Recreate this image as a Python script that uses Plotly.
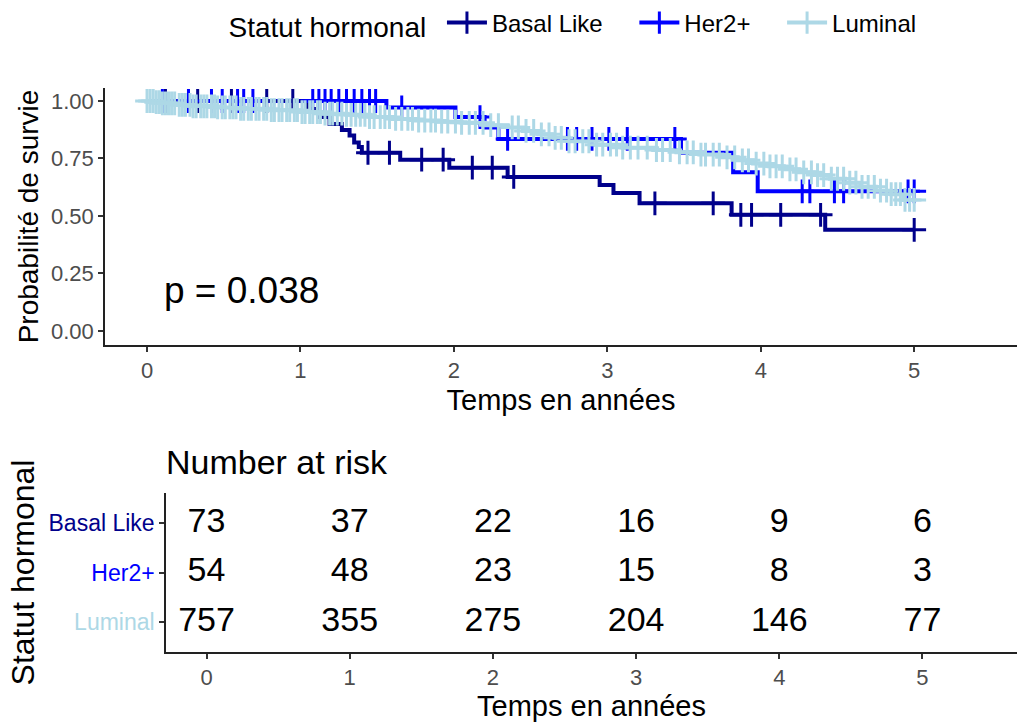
import numpy as np
import plotly.graph_objects as go

# ---- Kaplan-Meier estimates per hormonal status (time in years, survival probability) ----
basal_t = [0, 1.05, 1.12, 1.19, 1.27, 1.32, 1.35, 1.38, 1.40, 1.65, 1.97, 2.35, 2.95, 3.04, 3.21, 3.81, 4.42, 5.0]
basal_s = [1.0, 0.965, 0.93, 0.90, 0.874, 0.85, 0.82, 0.80, 0.775, 0.745, 0.71, 0.67, 0.635, 0.60, 0.555, 0.505, 0.44, 0.44]
basal_cens = [0.12, 0.33, 0.55, 0.78, 0.95, 1.44, 1.58, 1.79, 1.93, 2.12, 2.25, 2.39, 3.31, 3.69,
              3.87, 3.94, 4.13, 4.39, 5.0]

her2_t = [0, 1.56, 2.01, 2.20, 2.29, 3.48, 3.82, 3.98, 5.0]
her2_s = [1.0, 0.972, 0.93, 0.885, 0.835, 0.775, 0.69, 0.607, 0.607]
her2_cens = [0.10, 0.27, 0.42, 0.49, 0.59, 0.63, 0.69, 1.08, 1.12, 1.16, 1.20, 1.25, 1.30, 1.35,
             1.40, 1.45, 1.49, 1.66, 2.17, 2.35, 2.74, 2.80, 2.90, 3.01, 3.13, 3.44, 4.27, 4.32,
             4.48, 4.54, 4.96, 5.0]

lum_t = [0, 0.05, 0.10, 0.20, 0.30, 0.45, 0.60, 0.80, 1.00, 1.15, 1.30, 1.45, 1.60, 1.75, 1.90,
         2.05, 2.20, 2.35, 2.45, 2.55, 2.65, 2.75, 2.90, 3.10, 3.30, 3.45, 3.60, 3.75, 3.85, 3.95,
         4.05, 4.15, 4.25, 4.35, 4.45, 4.55, 4.65, 4.75, 4.85, 4.93, 5.0]
lum_s = [1.0, 0.995, 0.99, 0.983, 0.977, 0.972, 0.966, 0.96, 0.952, 0.945, 0.94, 0.93, 0.922, 0.915,
         0.91, 0.905, 0.895, 0.885, 0.87, 0.855, 0.84, 0.825, 0.81, 0.797, 0.787, 0.777, 0.767,
         0.755, 0.742, 0.728, 0.716, 0.703, 0.69, 0.678, 0.662, 0.645, 0.627, 0.61, 0.595, 0.57, 0.57]
lum_cens = [0.00, 0.02, 0.04, 0.06, 0.08, 0.10, 0.12, 0.14, 0.16, 0.18, 0.21, 0.23, 0.25, 0.28, 0.30,
            0.32, 0.35, 0.37, 0.39, 0.42, 0.44, 0.46, 0.49, 0.51, 0.54, 0.56, 0.58, 0.61, 0.63, 0.66,
            0.68, 0.71, 0.73, 0.76, 0.78, 0.81, 0.83, 0.86, 0.88, 0.91, 0.93, 0.96, 0.98, 1.01, 1.03,
            1.06, 1.08, 1.11, 1.13, 1.16, 1.19, 1.21, 1.24, 1.27, 1.30, 1.33, 1.36, 1.39, 1.42, 1.45,
            1.48, 1.52, 1.55, 1.58, 1.62, 1.66, 1.70, 1.73, 1.77, 1.81, 1.85, 1.88, 1.92, 1.96, 2.01,
            2.05, 2.10, 2.14, 2.19, 2.24, 2.29, 2.38, 2.42, 2.47, 2.52, 2.57, 2.62, 2.66, 2.70, 2.75,
            2.79, 2.84, 2.88, 2.93, 2.97, 3.02, 3.06, 3.10, 3.15, 3.20, 3.26, 3.32, 3.36, 3.41, 3.47,
            3.52, 3.56, 3.61, 3.64, 3.69, 3.73, 3.78, 3.83, 3.88, 3.92, 3.97, 4.02, 4.06, 4.10, 4.14,
            4.19, 4.23, 4.28, 4.33, 4.37, 4.41, 4.46, 4.50, 4.54, 4.58, 4.62, 4.66, 4.70, 4.74, 4.78,
            4.82, 4.85, 4.88, 4.91, 4.94, 4.97, 5.00]

# ---- Number at risk table ----
risk_times = [0, 1, 2, 3, 4, 5]
risk_basal = [73, 37, 22, 16, 9, 6]
risk_her2 = [54, 48, 23, 15, 8, 3]
risk_luminal = [757, 355, 275, 204, 146, 77]

p_value_text = "p = 0.038"

groups = ["Basal Like", "Her2+", "Luminal"]
colors = {"Basal Like": "#00008B", "Her2+": "#0000FF", "Luminal": "#ADD8E6"}
curves = {
    "Basal Like": (basal_t, basal_s, basal_cens),
    "Her2+": (her2_t, her2_s, her2_cens),
    "Luminal": (lum_t, lum_s, lum_cens),
}
risk = {"Basal Like": risk_basal, "Her2+": risk_her2, "Luminal": risk_luminal}

FONT = "Liberation Sans, Arial, sans-serif"
W, H = 1017, 727
LINE_W = 4
MARK_SIZE = 17
MARK_W = 3
LEGEND_GAP = "\u00a0" * 4  # extra room between legend entries


def step_value(times, surv, t):
    idx = np.searchsorted(np.asarray(times), t, side="right") - 1
    return np.asarray(surv)[np.clip(idx, 0, len(surv) - 1)]


fig = go.Figure()

# survival curves
for g in groups:
    t, s, _ = curves[g]
    fig.add_trace(go.Scatter(x=t, y=s, mode="lines", line=dict(color=colors[g], width=LINE_W, shape="hv"),
                             showlegend=False, hoverinfo="skip", xaxis="x", yaxis="y"))

# censoring marks
for g in groups:
    t, s, c = curves[g]
    fig.add_trace(go.Scatter(x=c, y=step_value(t, s, c), mode="markers",
                             marker=dict(symbol="cross-thin", size=MARK_SIZE,
                                         line=dict(color=colors[g], width=MARK_W)),
                             showlegend=False, hoverinfo="skip", xaxis="x", yaxis="y"))

# legend entries
for i, g in enumerate(groups):
    label = g + (LEGEND_GAP if i < len(groups) - 1 else "")
    fig.add_trace(go.Scatter(x=[None], y=[None], mode="lines+markers", name=label,
                             line=dict(color=colors[g], width=LINE_W),
                             marker=dict(symbol="cross-thin", size=MARK_SIZE,
                                         line=dict(color=colors[g], width=MARK_W)),
                             xaxis="x", yaxis="y"))

# risk table numbers
for g in groups:
    fig.add_trace(go.Scatter(x=risk_times, y=[g] * len(risk_times), mode="text",
                             text=[str(v) for v in risk[g]],
                             textfont=dict(family=FONT, size=34, color="black"),
                             textposition="middle center",
                             showlegend=False, hoverinfo="skip", xaxis="x2", yaxis="y2"))

axis_common = dict(showgrid=False, zeroline=False, showline=True, linecolor="#222222", linewidth=1.5,
                   ticks="outside", ticklen=5, tickwidth=1.5, tickcolor="#333333",
                   tickfont=dict(family=FONT, size=22, color="#4D4D4D"), automargin=False)

fig.update_layout(
    width=W, height=H,
    margin=dict(l=0, r=0, t=0, b=0),
    paper_bgcolor="white", plot_bgcolor="white",
    font=dict(family=FONT, color="black"),
    xaxis=dict(domain=[105 / W, 1.0], range=[-0.274, 5.67], tickvals=[0, 1, 2, 3, 4, 5],
               title=dict(text="Temps en années", font=dict(size=29), standoff=8),
               anchor="y", **axis_common),
    yaxis=dict(domain=[1 - 345 / H, 1 - 88 / H], range=[-0.061, 1.0565],
               tickvals=[0, 0.25, 0.5, 0.75, 1.0], ticktext=["0.00", "0.25", "0.50", "0.75", "1.00"],
               title=dict(text="Probabilité de survie", font=dict(size=28), standoff=4),
               anchor="x", **axis_common),
    xaxis2=dict(domain=[166 / W, 1.0], range=[-0.283, 5.66], tickvals=[0, 1, 2, 3, 4, 5],
                title=dict(text="Temps en années", font=dict(size=29), standoff=6),
                anchor="y2", **axis_common),
    yaxis2=dict(domain=[1 - 652 / H, 1 - 493 / H], range=[-0.606, 2.606],
                type="category", categoryorder="array", categoryarray=["Luminal", "Her2+", "Basal Like"],
                tickvals=["Basal Like", "Her2+", "Luminal"],
                ticktext=[f"<span style='color:{colors[g]}'>{g}</span>" for g in groups],
                title=dict(text="Statut hormonal", font=dict(size=32), standoff=4),
                anchor="x2", **{**axis_common, "tickfont": dict(family=FONT, size=23)}),
    legend=dict(orientation="h", x=574 / W, xanchor="center", y=1 - 24 / H, yanchor="middle",
                title=dict(text="Statut hormonal\u00a0", font=dict(size=28, family=FONT)),
                font=dict(size=24, family=FONT), itemwidth=40, bgcolor="rgba(0,0,0,0)"),
)

fig.add_annotation(x=0.098, y=0.178, xref="x", yref="y", text=p_value_text, showarrow=False,
                   xanchor="left", yanchor="middle", font=dict(family=FONT, size=37, color="black"))
fig.add_annotation(x=164 / W, y=1 - 462 / H, xref="paper", yref="paper", text="Number at risk",
                   showarrow=False, xanchor="left", yanchor="middle",
                   font=dict(family=FONT, size=34, color="black"))

fig.write_html("out.html")
